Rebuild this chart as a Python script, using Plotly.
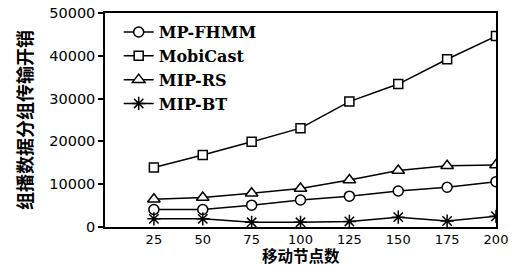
import plotly.graph_objects as go

nodes = [25, 50, 75, 100, 125, 150, 175, 200]
mp_fhmm = [4100, 4100, 5100, 6300, 7200, 8400, 9300, 10600]
mobicast = [13900, 16800, 19900, 23100, 29300, 33400, 39200, 44600]
mip_rs = [6500, 6900, 7900, 9000, 11000, 13200, 14300, 14500]
mip_bt = [1900, 1900, 1100, 1100, 1300, 2300, 1400, 2500]
y_ticks = [0, 10000, 20000, 30000, 40000, 50000]
y_ticktext = ["0", "10000", "20000", "30000", "40000", "50000"]

series = [
    ("MP-FHMM", mp_fhmm, "circle", 10, "white"),
    ("MobiCast", mobicast, "square", 9, "white"),
    ("MIP-RS", mip_rs, "triangle-up", 11, "white"),
    ("MIP-BT", mip_bt, "asterisk-open", 11, "black"),
]

fig = go.Figure()
for name, vals, sym, sz, fill in series:
    fig.add_trace(go.Scatter(
        x=nodes, y=vals, name=name, mode="lines+markers",
        line=dict(color="black", width=1.5),
        marker=dict(symbol=sym, size=sz, color=fill,
                    line=dict(color="black", width=1.5)),
    ))

fig.update_layout(
    width=525, height=267,
    margin=dict(l=105, r=29, t=13, b=40),
    plot_bgcolor="white", paper_bgcolor="white",
    showlegend=True,
    legend=dict(x=0.035, y=0.99, xanchor="left", yanchor="top",
                bgcolor="rgba(0,0,0,0)",
                font=dict(family="DejaVu Serif", size=16, color="black", weight="bold"),
                tracegroupgap=0, itemwidth=30),
    font=dict(family="DejaVu Sans", color="black"),
    annotations=[
        dict(text="移动节点数", xref="paper", yref="paper", x=0.5, y=0,
             yshift=-40, xanchor="center", yanchor="bottom", showarrow=False,
             borderpad=0,
             font=dict(family="Noto Sans CJK SC", size=15.5, color="black", weight="bold")),
        dict(text="组播数据分组传输开销", xref="paper", yref="paper", x=0, y=0.5,
             xshift=-81, xanchor="center", yanchor="middle", showarrow=False,
             textangle=-90,
             font=dict(family="Noto Sans CJK SC", size=18, color="black", weight="bold")),
    ],
)
fig.update_xaxes(
    range=[0, 200], tickvals=nodes, ticks="", showgrid=False, zeroline=False,
    showline=True, linecolor="black", linewidth=1.5, mirror=True, automargin=False,
    tickfont=dict(family="DejaVu Sans", size=13, color="black"),
)
fig.update_yaxes(
    range=[0, 50000], tickvals=y_ticks, ticktext=y_ticktext,
    ticks="outside", ticklen=5, tickwidth=1.5, tickcolor="black",
    showgrid=False, zeroline=False, automargin=False,
    showline=True, linecolor="black", linewidth=1.5, mirror=True,
    tickfont=dict(family="DejaVu Sans", size=14.5, color="black"),
)
fig.write_html("out.html", config={"displayModeBar": False},
               post_script="document.body.style.margin='0';document.body.style.overflow='hidden';")
